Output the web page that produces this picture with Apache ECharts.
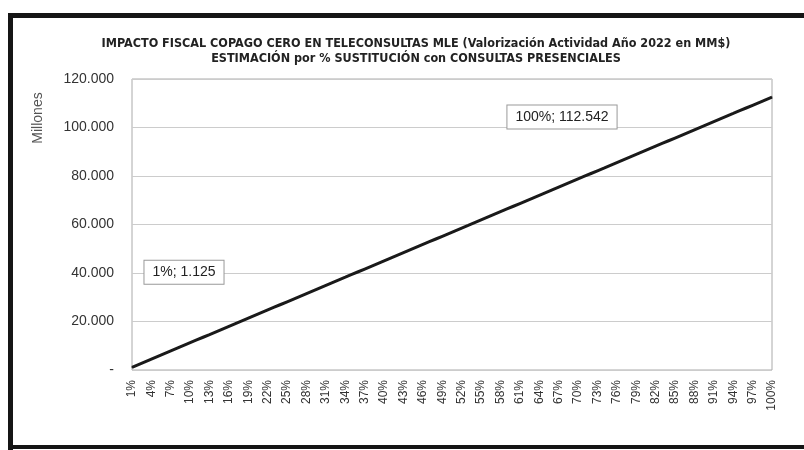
<!DOCTYPE html>
<html>
<head>
<meta charset="utf-8">
<script src="https://cdn.jsdelivr.net/npm/echarts@6/dist/echarts.min.js"></script>
<style>
html,body{margin:0;padding:0;background:#fff;}
#chart{width:804px;height:450px;}
</style>
</head>
<body>
<div id="chart"></div>
<script>
const titleLine1 = 'IMPACTO FISCAL COPAGO CERO EN TELECONSULTAS MLE (Valorización Actividad Año 2022 en MM$)';
const titleLine2 = 'ESTIMACIÓN por % SUSTITUCIÓN con CONSULTAS PRESENCIALES';
const yAxisName = 'Millones';

const categories = ['1%','2%','3%','4%','5%','6%','7%','8%','9%','10%',
'11%','12%','13%','14%','15%','16%','17%','18%','19%','20%',
'21%','22%','23%','24%','25%','26%','27%','28%','29%','30%',
'31%','32%','33%','34%','35%','36%','37%','38%','39%','40%',
'41%','42%','43%','44%','45%','46%','47%','48%','49%','50%',
'51%','52%','53%','54%','55%','56%','57%','58%','59%','60%',
'61%','62%','63%','64%','65%','66%','67%','68%','69%','70%',
'71%','72%','73%','74%','75%','76%','77%','78%','79%','80%',
'81%','82%','83%','84%','85%','86%','87%','88%','89%','90%',
'91%','92%','93%','94%','95%','96%','97%','98%','99%','100%'];

const impacto = [1125,2251,3376,4502,5627,6753,7878,9003,10129,11254,
12380,13505,14630,15756,16881,18007,19132,20258,21383,22508,
23634,24759,25885,27010,28136,29261,30386,31512,32637,33763,
34888,36013,37139,38264,39390,40515,41641,42766,43891,45017,
46142,47268,48393,49518,50644,51769,52895,54020,55146,56271,
57396,58522,59647,60773,61898,63024,64149,65274,66400,67525,
68651,69776,70901,72027,73152,74278,75403,76529,77654,78779,
79905,81030,82156,83281,84407,85532,86657,87783,88908,90034,
91159,92284,93410,94535,95661,96786,97912,99037,100162,101288,
102413,103539,104664,105789,106915,108040,109166,110291,111417,112542];

function fmt(v){
  if (v === 0) return '-';
  return Math.round(v).toString().replace(/\B(?=(\d{3})+(?!\d))/g, '.');
}

const labelBox = {
  show: true,
  position: 'inside',
  formatter: p => p.name + '; ' + fmt(p.value),
  fontFamily: 'Liberation Sans, Arial, sans-serif',
  fontSize: 14,
  color: '#222',
  backgroundColor: '#fff',
  borderColor: '#999',
  borderWidth: 1,
  padding: [5, 8, 4, 8]
};

const seriesData = impacto.map((v, i) => {
  if (i === 0 || i === 99) return {value: v, label: labelBox};
  return v;
});

const labelShift = {0: [52, -95], 99: [-210, 20]};

const chart = echarts.init(document.getElementById('chart'), null, {renderer: 'canvas'});
chart.setOption({
  backgroundColor: '#fff',
  animation: false,
  title: {
    text: titleLine1 + '\n' + titleLine2,
    left: 411,
    textAlign: 'center',
    top: 31,
    textStyle: {
      fontFamily: 'Liberation Sans Narrow, DejaVu Sans Condensed, sans-serif',
      fontWeight: 'bold',
      fontSize: 12.5,
      lineHeight: 15,
      color: '#222'
    }
  },
  grid: {
    left: 132, right: 32, top: 79, bottom: 80,
    show: true, borderColor: '#aaa', borderWidth: 1, backgroundColor: 'transparent'
  },
  xAxis: {
    type: 'category',
    data: categories,
    boundaryGap: false,
    axisLine: {show: false},
    axisTick: {show: false},
    axisLabel: {
      interval: 2,
      rotate: 90,
      margin: 10,
      fontFamily: 'Liberation Sans, Arial, sans-serif',
      fontSize: 12,
      color: '#333'
    },
    splitLine: {show: false}
  },
  yAxis: {
    type: 'value',
    min: 0, max: 120000, interval: 20000,
    axisLine: {show: false},
    axisTick: {show: false},
    axisLabel: {
      formatter: fmt,
      margin: 18,
      fontFamily: 'Liberation Sans, Arial, sans-serif',
      fontSize: 14,
      color: '#333'
    },
    splitLine: {lineStyle: {color: '#ccc', width: 1}}
  },
  series: [{
    type: 'line',
    data: seriesData,
    symbol: 'circle',
    symbolSize: 1,
    showSymbol: true,
    itemStyle: {color: '#1a1a1a'},
    lineStyle: {color: '#1a1a1a', width: 3},
    label: {show: false},
    labelLayout: function (params) {
      const s = labelShift[params.dataIndex] || [0, 0];
      return {dx: s[0], dy: s[1], hideOverlap: false, moveOverlap: null};
    }
  }],
  graphic: [
    {type: 'rect', shape: {x: 8, y: 13, width: 796, height: 5}, style: {fill: '#151515'}},
    {type: 'rect', shape: {x: 8, y: 13, width: 5, height: 437}, style: {fill: '#151515'}},
    {type: 'rect', shape: {x: 8, y: 445, width: 796, height: 4}, style: {fill: '#151515'}},
    {type: 'text', x: 38, y: 118, rotation: Math.PI / 2,
      style: {text: yAxisName, fontFamily: 'Liberation Sans, Arial, sans-serif', fontSize: 14,
        fill: '#555', align: 'center', verticalAlign: 'middle'}}
  ]
});
</script>
</body>
</html>
